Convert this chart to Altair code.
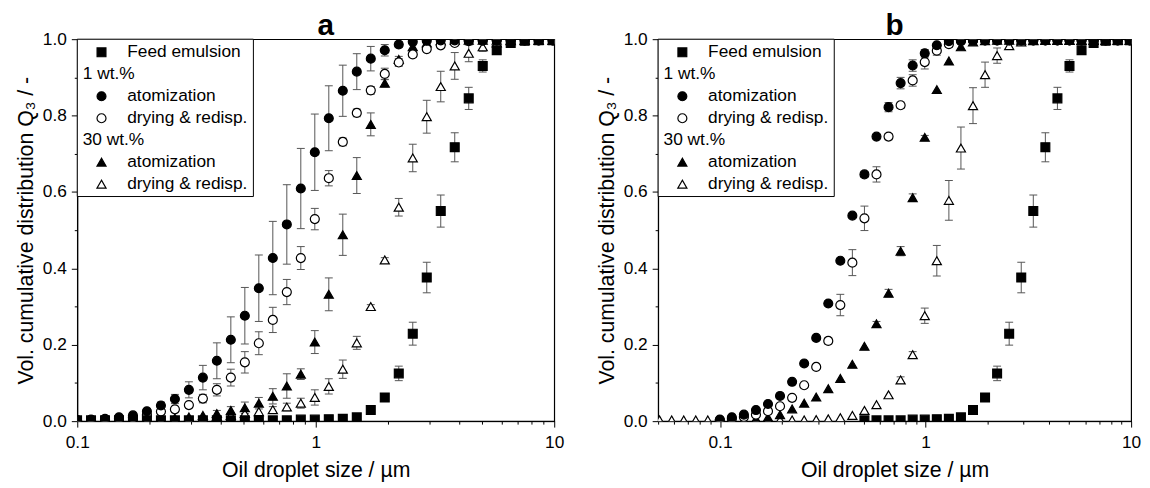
import altair as alt
import pandas as pd

# ---------------- data ----------------
BINS = [0.0508, 0.0582, 0.0666, 0.0762, 0.0872, 0.0998, 0.1142, 0.1307, 0.1496, 0.1712,
        0.1959, 0.2243, 0.2567, 0.2938, 0.3363, 0.3849, 0.4405, 0.5043, 0.5772, 0.6607,
        0.7563, 0.8657, 0.9910, 1.1344, 1.2985, 1.4863, 1.7013, 1.9474, 2.2291, 2.5516,
        2.9207, 3.3432, 3.8269, 4.3805, 5.0142, 5.7396, 6.5699, 7.5203, 8.6083, 9.8535]

# feed emulsion (starts at bin 0.0998)
FEED = [0.002, 0.002, 0.002, 0.002, 0.002, 0.002, 0.002, 0.002, 0.002, 0.002, 0.002, 0.002,
        0.002, 0.002, 0.002, 0.002, 0.004, 0.004, 0.005, 0.006, 0.010, 0.029, 0.062, 0.125,
        0.229, 0.376, 0.550, 0.717, 0.845, 0.930, 0.971, 0.990, 0.996, 0.997, 0.997]
FEED_ERR = [0, 0, 0, 0, 0, 0, 0, 0, 0, 0, 0, 0, 0, 0, 0, 0, 0, 0, 0, 0, 0, 0.005, 0.006,
            0.019, 0.030, 0.040, 0.042, 0.038, 0.029, 0.016, 0.005, 0, 0, 0, 0]

# panel a (start at bin 0.0998)
A_A1 = [0.003, 0.004, 0.006, 0.010, 0.015, 0.026, 0.041, 0.058, 0.082, 0.114, 0.158, 0.213,
        0.276, 0.348, 0.427, 0.515, 0.609, 0.704, 0.793, 0.865, 0.915, 0.949, 0.971, 0.986,
        0.993, 0.996, 0.997, 0.997, 0.997, 0.997, 0.997, 0.997, 0.997, 0.997, 0.997]
A_A1_ERR = [0, 0, 0, 0, 0, 0.006, 0.009, 0.012, 0.021, 0.032, 0.047, 0.060, 0.074, 0.087,
            0.096, 0.104, 0.105, 0.100, 0.085, 0.067, 0.047, 0.032, 0.015, 0.008, 0, 0, 0,
            0, 0, 0, 0, 0, 0, 0, 0]
A_D1 = [0.002, 0.003, 0.004, 0.006, 0.009, 0.017, 0.025, 0.031, 0.042, 0.059, 0.082, 0.114,
        0.154, 0.204, 0.265, 0.338, 0.427, 0.529, 0.636, 0.731, 0.807, 0.866, 0.909, 0.939,
        0.960, 0.974, 0.984, 0.990, 0.995, 0.996, 0.997, 0.997, 0.997, 0.997, 0.997]
A_D1_ERR = [0, 0, 0, 0, 0, 0, 0, 0, 0, 0.011, 0.016, 0.022, 0.028, 0.030, 0.033, 0.033, 0.030,
            0.028, 0.020, 0.010, 0.010, 0.010, 0.015, 0.010, 0.008, 0.005, 0, 0, 0, 0, 0, 0,
            0, 0, 0]
A_A30 = [0.001, 0.001, 0.001, 0.002, 0.003, 0.004, 0.006, 0.008, 0.011, 0.015, 0.020, 0.028,
         0.035, 0.047, 0.065, 0.092, 0.123, 0.207, 0.332, 0.488, 0.643, 0.777, 0.885, 0.947,
         0.980, 0.990, 0.996, 0.997, 0.997, 0.997, 0.997, 0.997, 0.997, 0.997, 0.997]
A_A30_ERR = [0, 0, 0, 0, 0, 0, 0, 0, 0, 0, 0.008, 0.010, 0.015, 0.015, 0.020, 0.032, 0.014,
             0.030, 0.043, 0.054, 0.047, 0.030, 0.010, 0.008, 0, 0, 0, 0, 0, 0, 0, 0, 0, 0, 0]
A_D30 = [0.001, 0.001, 0.001, 0.001, 0.002, 0.002, 0.003, 0.004, 0.006, 0.008, 0.012, 0.015,
         0.020, 0.025, 0.030, 0.037, 0.047, 0.062, 0.091, 0.136, 0.205, 0.300, 0.422, 0.560,
         0.689, 0.797, 0.876, 0.930, 0.963, 0.980, 0.990, 0.996, 0.997, 0.997, 0.997]
A_D30_ERR = [0, 0, 0, 0, 0, 0, 0, 0, 0, 0, 0, 0, 0, 0, 0.008, 0.010, 0.013, 0.020, 0.020,
             0.024, 0.017, 0.005, 0.006, 0.023, 0.036, 0.043, 0.040, 0.035, 0.022, 0.012, 0,
             0, 0, 0, 0]

# panel b (start at bin 0.0998, except D30 which starts at 0.0508)
B_A1 = [0.004, 0.010, 0.017, 0.029, 0.045, 0.066, 0.103, 0.151, 0.218, 0.308, 0.420, 0.538,
        0.646, 0.745, 0.822, 0.885, 0.931, 0.963, 0.984, 0.995, 0.996, 0.997, 0.997, 0.997,
        0.997, 0.997, 0.997, 0.997, 0.997, 0.997, 0.997, 0.997, 0.997, 0.997, 0.997]
B_A1_ERR = [0, 0, 0, 0, 0, 0, 0, 0, 0, 0, 0, 0, 0.008, 0.006, 0.012, 0.015, 0.015, 0.010, 0,
            0, 0, 0, 0, 0, 0, 0, 0, 0, 0, 0, 0, 0, 0, 0, 0]
B_D1 = [0.003, 0.006, 0.011, 0.017, 0.026, 0.039, 0.061, 0.094, 0.142, 0.210, 0.304, 0.415,
        0.531, 0.646, 0.745, 0.827, 0.892, 0.940, 0.970, 0.987, 0.995, 0.996, 0.997, 0.997,
        0.997, 0.997, 0.997, 0.997, 0.997, 0.997, 0.997, 0.997, 0.997, 0.997, 0.997]
B_D1_ERR = [0, 0, 0, 0, 0, 0, 0, 0, 0, 0.008, 0.028, 0.034, 0.032, 0.020, 0.008, 0.008, 0.015,
            0.018, 0.012, 0.008, 0, 0, 0, 0, 0, 0, 0, 0, 0, 0, 0, 0, 0, 0, 0]
B_A30 = [0.001, 0.002, 0.003, 0.006, 0.010, 0.017, 0.032, 0.047, 0.063, 0.085, 0.112, 0.149,
         0.196, 0.255, 0.335, 0.445, 0.585, 0.743, 0.868, 0.943, 0.980, 0.993, 0.996, 0.997,
         0.997, 0.997, 0.997, 0.997, 0.997, 0.997, 0.997, 0.997, 0.997, 0.997, 0.997]
B_A30_ERR = [0, 0, 0, 0, 0, 0, 0, 0, 0, 0, 0, 0, 0, 0.006, 0.010, 0.012, 0.010, 0.005, 0, 0,
             0, 0, 0, 0, 0, 0, 0, 0, 0, 0, 0, 0, 0, 0, 0]
B_D30 = [0.003, 0.003, 0.003, 0.003, 0.003, 0.003, 0.003, 0.003, 0.003, 0.003, 0.003, 0.003,
         0.003, 0.004, 0.006, 0.009, 0.015, 0.028, 0.043, 0.069, 0.108, 0.174, 0.276, 0.420,
         0.578, 0.715, 0.826, 0.907, 0.957, 0.983, 0.993, 0.996, 0.997, 0.997, 0.997, 0.997,
         0.997, 0.997, 0.997, 0.997]
B_D30_ERR = [0, 0, 0, 0, 0, 0, 0, 0, 0, 0, 0, 0, 0, 0, 0, 0, 0, 0, 0, 0, 0.008, 0.008, 0.020,
             0.040, 0.052, 0.055, 0.047, 0.033, 0.020, 0.008, 0, 0, 0, 0, 0, 0, 0, 0, 0, 0]

# series keys / legend text
SERIES = ["feed", "a1", "d1", "a30", "d30"]
LEG_KEYS = ["feed", "h1", "a1", "d1", "h30", "a30", "d30"]
LEG_TEXT = ["Feed emulsion", "1 wt.%", "atomization", "drying & redisp.", "30 wt.%",
            "atomization", "drying & redisp."]
LEG_HEADER = [False, True, False, False, True, False, False]

XTICKS_A = [0.1, 0.2, 0.3, 0.4, 0.5, 0.6, 0.7, 0.8, 0.9, 1, 2, 3, 4, 5, 6, 7, 8, 9, 10]
XTICKS_B = [0.05, 0.06, 0.07, 0.08, 0.09] + XTICKS_A
YTICKS = [0.0, 0.1, 0.2, 0.3, 0.4, 0.5, 0.6, 0.7, 0.8, 0.9, 1.0]

# ---------------- styles ----------------
FONT = "Liberation Sans"
ERRC = "#555555"
SHAPES = ["square", "circle", "circle", "triangle-up", "triangle-up"]
FILLS = ["black", "black", "white", "black", "white"]
SIZES = [80, 85, 85, 100, 100]
LEG_W, LEG_H = 178, 159          # legend box (px)
ROW0, ROW_H = 13.3, 22.2         # legend row layout (px)
SYM_X, HDR_X, TXT_X = 24.5, 5.5, 50.5


# ---------------- build tables ----------------
def build(series):
    rows = []
    for key, start, vals, errs in series:
        for i, (v, e) in enumerate(zip(vals, errs)):
            rows.append(dict(key=key, x=BINS[start + i], y=v, lo=v - e, hi=v + e, e=e))
    return pd.DataFrame(rows)

dfa = build([("d30", 5, A_D30, A_D30_ERR), ("a30", 5, A_A30, A_A30_ERR),
             ("d1", 5, A_D1, A_D1_ERR), ("a1", 5, A_A1, A_A1_ERR),
             ("feed", 5, FEED, FEED_ERR)])
dfb = build([("d30", 0, B_D30, B_D30_ERR), ("a30", 5, B_A30, B_A30_ERR),
             ("d1", 5, B_D1, B_D1_ERR), ("a1", 5, B_A1, B_A1_ERR),
             ("feed", 17, FEED[12:], FEED_ERR[12:])])
legdf = pd.DataFrame({"row": list(range(len(LEG_KEYS))), "key": LEG_KEYS,
                      "text": LEG_TEXT, "header": LEG_HEADER})

shape_scale = alt.Scale(domain=SERIES, range=SHAPES)
fill_scale = alt.Scale(domain=SERIES, range=FILLS)
size_scale = alt.Scale(domain=SERIES, range=SIZES)


def legend_layers():
    box = alt.Chart(pd.DataFrame({"k": [0]})).mark_rect(
        fill="white", stroke="black", strokeWidth=1).encode(
        x=alt.value(0), x2=alt.value(LEG_W), y=alt.value(0), y2=alt.value(LEG_H))
    base = alt.Chart(legdf).transform_calculate(
        ly=f"{ROW0} + datum.row * {ROW_H}",
        lx=f"datum.header ? {HDR_X} : {TXT_X}")
    sym = base.transform_filter("!datum.header").mark_point(
        filled=True, stroke="black", strokeWidth=1.2, opacity=1).encode(
        x=alt.value(SYM_X),
        y=alt.Y("ly:Q", scale=None, axis=None),
        shape=alt.Shape("key:N", scale=shape_scale, legend=None),
        fill=alt.Fill("key:N", scale=fill_scale, legend=None),
        size=alt.Size("key:N", scale=size_scale, legend=None))
    txt = base.mark_text(align="left", baseline="middle", font=FONT, fontSize=17.5,
                         color="black").encode(
        x=alt.X("lx:Q", scale=None, axis=None),
        y=alt.Y("ly:Q", scale=None, axis=None),
        text="text:N")
    return [box, sym, txt]


def panel(df, domain, xticks, ttl, width):
    major = "datum.value == 0.1 || datum.value == 1 || datum.value == 10"
    xax = alt.Axis(values=xticks, title="Oil droplet size / µm", labelFlush=False,
                   labelExpr="datum.value == 0.1 ? '0.1' : datum.value == 1 ? '1' : datum.value == 10 ? '10' : ''",
                   tickSize={"condition": {"test": major, "value": 6}, "value": 3},
                   labelPadding=7, titlePadding=8)
    yax = alt.Axis(values=YTICKS, format=".1f", title="Vol. cumulative distribution Q\u2083 / -",
                   labelExpr="round(datum.value*10) % 2 == 0 ? datum.label : ''",
                   tickSize={"condition": {"test": "round(datum.value*10) % 2 == 0", "value": 6},
                             "value": 3},
                   labelPadding=5, titlePadding=5)
    xs = alt.Scale(type="log", domain=domain, nice=False)
    ys = alt.Scale(domain=[0, 1], nice=False)
    X = alt.X("x:Q", scale=xs, axis=xax)
    Y = alt.Y("y:Q", scale=ys, axis=yax)
    base = alt.Chart(df)
    errdf = base.transform_filter("datum.e > 0.0005")
    bars = errdf.mark_rule(color=ERRC, strokeWidth=1, clip=True).encode(
        x=X, y=alt.Y("lo:Q", scale=ys, axis=yax), y2="hi:Q")
    cap_hi = errdf.mark_rule(color=ERRC, strokeWidth=1, xOffset=-4, x2Offset=4, clip=True).encode(
        x=X, x2="x:Q", y=alt.Y("hi:Q", scale=ys, axis=yax))
    cap_lo = errdf.mark_rule(color=ERRC, strokeWidth=1, xOffset=-4, x2Offset=4, clip=True).encode(
        x=X, x2="x:Q", y=alt.Y("lo:Q", scale=ys, axis=yax))
    pts = base.mark_point(filled=True, stroke="black", strokeWidth=1.2, opacity=1,
                          clip=True).encode(
        x=X, y=Y,
        shape=alt.Shape("key:N", scale=shape_scale, legend=None),
        fill=alt.Fill("key:N", scale=fill_scale, legend=None),
        size=alt.Size("key:N", scale=size_scale, legend=None),
    )
    return alt.layer(bars, cap_hi, cap_lo, pts, *legend_layers()).properties(
        width=width, height=386, title=ttl)


pa = panel(dfa, [0.1, 10], XTICKS_A, alt.TitleParams("a", dx=10), 482)
pb = panel(dfb, [0.05, 10], XTICKS_B, alt.TitleParams("b"), 478)

chart = alt.hconcat(pa, pb, spacing=31).properties(
    padding={"left": 7, "top": 0, "right": 0, "bottom": 0}
).configure(font=FONT).configure_axis(
    labelFont=FONT, titleFont=FONT, labelFontSize=17.5, titleFontSize=21.5,
    labelColor="black", titleColor="black", titleFontWeight="normal",
    domainColor="black", tickColor="black", grid=False, domainWidth=1, tickWidth=1,
).configure_view(stroke="black", strokeWidth=1.2).configure_title(
    font=FONT, fontSize=30, fontWeight="bold", anchor="middle", offset=2, dy=13,
    color="black"
)

chart.save("out.html", embed_options={"renderer": "svg", "actions": False})
